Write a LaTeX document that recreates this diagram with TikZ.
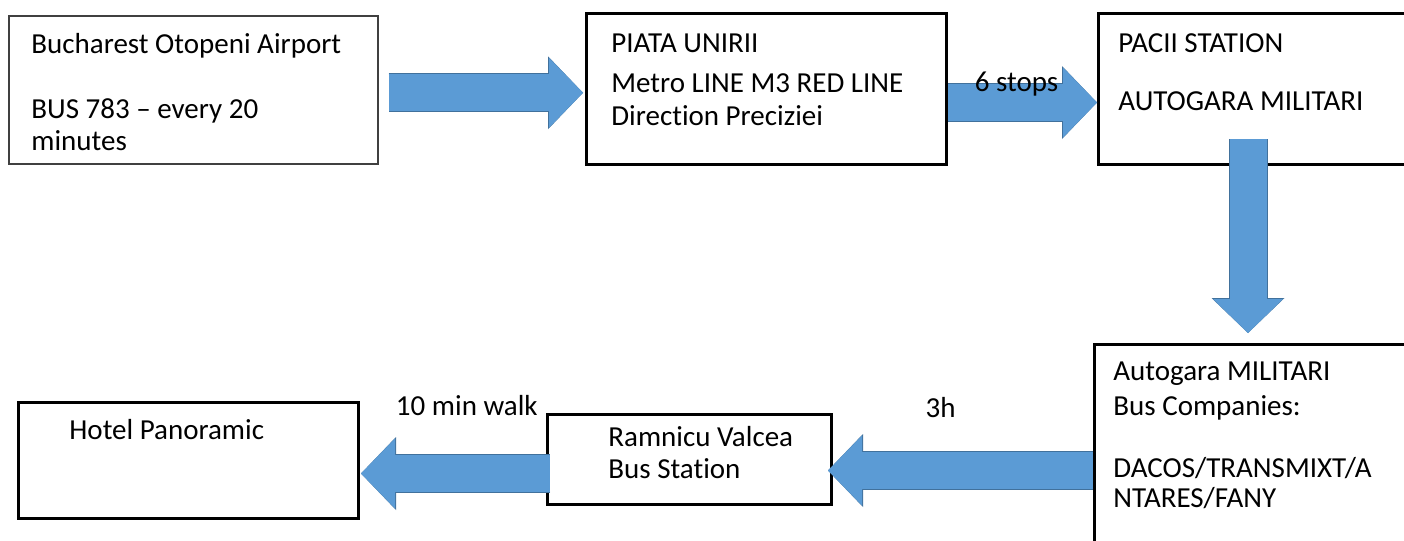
\documentclass[tikz,border=0pt]{standalone}
\usepackage{fontspec}
\setmainfont{Carlito}[Ligatures=NoCommon]
\usetikzlibrary{positioning}
\usetikzlibrary{arrows.meta,calc}
\definecolor{flowblue}{HTML}{5B9BD5}
\definecolor{flowedge}{HTML}{41719C}
\definecolor{thinframe}{HTML}{404040}

\begin{document}
\begin{tikzpicture}
    [x=0.5pt, y=-0.5pt,
    font=\fontsize{14.5}{16.5}\selectfont,
    trip/.style={draw=flowblue,
                 line width=18.5pt,
                 -{Triangle[length=17pt, width=35pt, line width=0pt]},
                 preaction={draw=flowedge,
                            line width=19.5pt,
                            -{Triangle[length=17.5pt, width=36.5pt, line width=0pt]}}},
    stn/.style={rectangle,
                draw=black,
                line width=1.5pt,
                anchor=north west,
                inner sep=0pt},
    txt/.style={anchor=base west,
                align=left,
                inner sep=0pt}]
    \clip (0,0) rectangle (1404,541);
    % stations
    \node[stn,
          draw=thinframe,
          line width=0.75pt,
          minimum width=184.5pt,
          minimum height=74pt] (Airport) at (8,15) {};
    \node[stn,
          minimum width=180pt,
          minimum height=75.5pt] (Piata) at (585,12) {};
    \node[stn,
          minimum width=170pt,
          minimum height=75.5pt] (Pacii) at (1097,12) {};
    \node[stn,
          minimum width=170pt,
          minimum height=120pt] (Autogara) at (1093,343) {};
    \node[stn,
          minimum width=142pt,
          minimum height=45pt] (Ramnicu) at (546,413) {};
    \node[stn,
          minimum width=170pt,
          minimum height=58pt] (Hotel) at (17,401) {};
    % texts (base = last line)
    \node[txt] (AirportText) at (31,150)
        {Bucharest Otopeni Airport\\[16pt] BUS 783 – every 20\\[-0.5pt] minutes};
    \node[txt] (PiataText) at (611,125)
        {PIATA UNIRII\\[3.5pt] Metro LINE M3 RED LINE\\ Direction Preciziei};
    \node[txt] (PaciiText) at (1118,110)
        {PACII STATION\\[12.5pt] AUTOGARA MILITARI};
    \node[txt] (AutogaraText) at (1113,507)
        {Autogara MILITARI\\[1pt] Bus Companies:\\[14.5pt] DACOS/TRANSMIXT/A\\[-1.5pt] NTARES/FANY};
    \node[txt] (RamnicuText) at (608,478)
        {Ramnicu Valcea\\[-0.5pt] Bus Station};
    \node[txt] (HotelText) at (69,439) {Hotel Panoramic};
    % arrows
    \draw[trip] ($(Airport.east)+(10,3)$) -- ($(Airport.east -| Piata.west)+(-2,3)$);
    \draw[trip] ($(Piata.east)+(0,13.5)$) -- ($(Piata.east -| Pacii.west)+(0,13.5)$)
        node[pos=.46, anchor=base, yshift=5.5pt] (Stops) {6 stops};
    \draw[trip] ($(Pacii.south -| Autogara.north west)+(155,-27)$) -- ($(Autogara.north west)+(155,-10)$);
    \draw[trip] ($(Autogara.west |- Ramnicu.east)+(0,11)$) -- ($(Ramnicu.east)+(-5,11)$)
        node[pos=.575, anchor=base, yshift=26.5pt] (Hours) {3h};
    \draw[trip] ($(Ramnicu.west)+(4,14)$) -- ($(Hotel.east |- Ramnicu.west)+(1,14)$)
        node[pos=.44, anchor=base, yshift=29pt] (Walk) {10 min walk};
\end{tikzpicture}
\end{document}
